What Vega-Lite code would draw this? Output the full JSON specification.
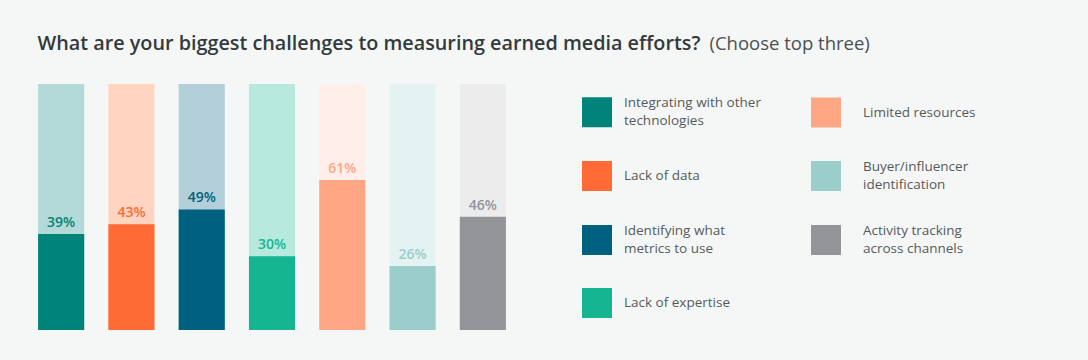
{
  "$schema": "https://vega.github.io/schema/vega-lite/v6.json",
  "width": 492,
  "height": 246,
  "autosize": {"type": "none"},
  "padding": {"left": 26, "top": 84, "right": 570, "bottom": 30},
  "background": "#f5f7f6",
  "config": {
    "font": "Open Sans",
    "view": {"stroke": null}
  },
  "data": {
    "values": [
      {"challenge": "Integrating with other technologies", "value": 0.39},
      {"challenge": "Lack of data", "value": 0.43},
      {"challenge": "Identifying what metrics to use", "value": 0.49},
      {"challenge": "Lack of expertise", "value": 0.30},
      {"challenge": "Limited resources", "value": 0.61},
      {"challenge": "Buyer/influencer identification", "value": 0.26},
      {"challenge": "Activity tracking across channels", "value": 0.46}
    ]
  },
  "encoding": {
    "x": {
      "field": "challenge",
      "type": "nominal",
      "sort": null,
      "scale": {"paddingInner": 0.344, "paddingOuter": 0.172},
      "axis": {
        "orient": "top",
        "labels": false,
        "ticks": false,
        "domain": false,
        "title": "(Choose top three)",
        "titleFont": "Open Sans",
        "titleFontSize": 18.5,
        "titleFontWeight": "normal",
        "titleColor": "#4a5052",
        "titleX": 683,
        "titleY": -35,
        "titleAlign": "left",
        "titleBaseline": "alphabetic",
        "titleAnchor": null
      }
    }
  },
  "layer": [
    {
      "mark": {"type": "bar"},
      "encoding": {
        "y": {
          "datum": 1,
          "type": "quantitative",
          "scale": {"domain": [0, 1], "nice": false},
          "axis": {
            "labels": false,
            "ticks": false,
            "domain": false,
            "grid": false,
            "title": "What are your biggest challenges to measuring earned media efforts?",
            "titleFont": "Open Sans",
            "titleFontSize": 19.8,
            "titleFontWeight": 600,
            "titleColor": "#333a3c",
            "titleAngle": 0,
            "titleX": 11,
            "titleY": -35,
            "titleAlign": "left",
            "titleBaseline": "alphabetic",
            "titleAnchor": null
          }
        },
        "y2": {"datum": 0},
        "color": {
          "field": "challenge",
          "type": "nominal",
          "legend": null,
          "scale": {
            "domain": ["Integrating with other technologies", "Lack of data", "Identifying what metrics to use", "Lack of expertise", "Limited resources", "Buyer/influencer identification", "Activity tracking across channels"],
            "range": ["#b3dad8", "#ffd4c0", "#b3cfda", "#b8e9dd", "#ffeee9", "#e5f2f2", "#ececec"]
          }
        }
      }
    },
    {
      "mark": {"type": "bar"},
      "encoding": {
        "y": {"field": "value", "type": "quantitative"},
        "color": {
          "field": "challenge",
          "type": "nominal",
          "scale": {
            "domain": ["Integrating with other technologies", "Lack of data", "Identifying what metrics to use", "Lack of expertise", "Limited resources", "Buyer/influencer identification", "Activity tracking across channels"],
            "range": ["#00847a", "#ff6b35", "#00607f", "#16b592", "#ffa685", "#9bcdcb", "#939598"]
          },
          "legend": {
            "orient": "none",
            "legendX": 556,
            "legendY": 13,
            "title": null,
            "columns": 2,
            "padding": 0,
            "gridAlign": "each",
            "columnPadding": 50,
            "rowPadding": 32,
            "symbolType": "square",
            "symbolSize": 900,
            "symbolStrokeWidth": 0,
            "symbolOpacity": 1,
            "labelFont": "Open Sans",
            "labelFontSize": 13.5,
            "labelColor": "#555a5c",
            "labelOffset": 12,
            "labelLimit": 250,
            "labelBaseline": "middle",
            "labelExpr": "({'Integrating with other technologies': ['Integrating with other', 'technologies'], 'Identifying what metrics to use': ['Identifying what', 'metrics to use'], 'Buyer/influencer identification': ['Buyer/influencer', 'identification'], 'Activity tracking across channels': ['Activity tracking', 'across channels']})[datum.label] || datum.label",
            "encode": {
              "labels": {
                "update": {
                  "lineHeight": {"value": 18},
                  "dy": {"signal": "length(datum.label) > 20 ? -9 : 0"},
                  "dx": {"signal": "indexof(['Limited resources', 'Buyer/influencer identification', 'Activity tracking across channels'], datum.label) >= 0 ? 10 : 0"}
                }
              }
            }
          }
        }
      }
    },
    {
      "mark": {"type": "text", "baseline": "alphabetic", "dy": -7, "fontSize": 14, "fontWeight": 600, "font": "Open Sans"},
      "encoding": {
        "y": {"field": "value", "type": "quantitative"},
        "text": {"field": "value", "type": "quantitative", "format": ".0%"},
        "color": {
          "field": "challenge",
          "type": "nominal",
          "legend": null,
          "scale": {
            "domain": ["Integrating with other technologies", "Lack of data", "Identifying what metrics to use", "Lack of expertise", "Limited resources", "Buyer/influencer identification", "Activity tracking across channels"],
            "range": ["#00847a", "#ff6b35", "#00607f", "#16b592", "#ffa685", "#9bcdcb", "#939598"]
          }
        }
      }
    }
  ],
  "resolve": {"scale": {"color": "independent"}}
}
